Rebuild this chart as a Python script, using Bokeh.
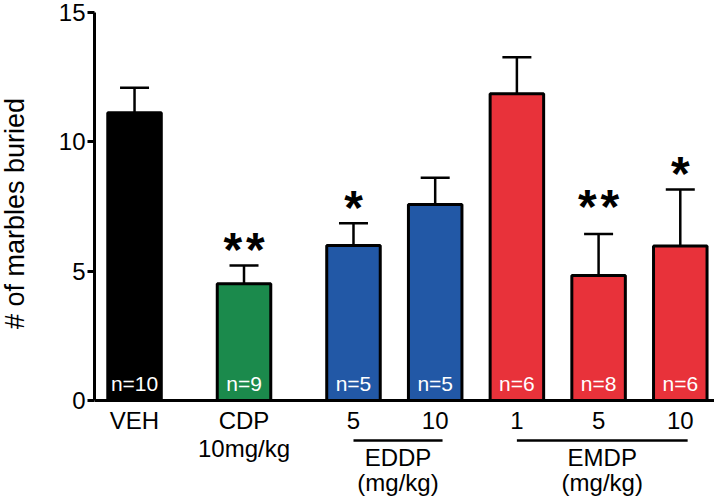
import math
from bokeh.plotting import figure
from bokeh.layouts import row
from bokeh.models import (Range1d, ColumnDataSource, Whisker, TeeHead, Span,
                          FixedTicker)
from bokeh.core.properties import value
from bokeh.embed import file_html
from bokeh.resources import INLINE

# ---------------- data ----------------
treatments = ["VEH", "CDP", "EDDP 5", "EDDP 10", "EMDP 1", "EMDP 5", "EMDP 10"]
clusters = ["VEH", "CDP", "TEST", "TEST", "TEST", "TEST", "TEST"]
tick_top = ["VEH", "CDP", "5", "10", "1", "5", "10"]
tick_bottom = ["", "10mg/kg", "", "", "", "", ""]
means = [11.12, 4.51, 5.99, 7.58, 11.86, 4.83, 5.97]
sems = [0.97, 0.71, 0.86, 1.03, 1.41, 1.61, 2.19]
n_animals = [10, 9, 5, 5, 6, 8, 6]
stars = ["", "**", "*", "", "", "**", "*"]
bar_colors = ["#000000", "#1b8a4c", "#2258a6", "#2258a6",
              "#e8323a", "#e8323a", "#e8323a"]
drug_names = ["EDDP", "EMDP"]
drug_members = [["EDDP 5", "EDDP 10"], ["EMDP 1", "EMDP 5", "EMDP 10"]]
y_ticks = [0, 5, 10, 15]
y_title = "# of marbles buried"

# ---------------- layout / style constants ----------------
FONT = "Liberation Sans"
CLUSTER_GAP = 1.34          # spacing between clusters (bar spacing = 1)
TOTAL_H = 496
LABEL_W = 30                # strip holding the rotated y title
LEFT = 94                   # x of the y axis
FRAME_W = 620
TOP = 12
PX_PER_X = 81.7
PX_PER_Y = 388 / 15
X_START = -0.49
Y_MAX = 15
star_lift = [0, 0, 0, 0, 0, 11, 0]   # extra pixel lift of the stars

# x positions from cluster membership
xpos, cur, prev = [], 0.0, None
for c in clusters:
    if prev is not None:
        cur += 1.0 if c == prev else CLUSTER_GAP
    xpos.append(cur)
    prev = c
pos_of = dict(zip(treatments, xpos))

src = ColumnDataSource(dict(
    x=xpos,
    mean=means,
    upper=[m + s for m, s in zip(means, sems)],
    color=bar_colors,
    nlab=["n=%d" % n for n in n_animals],
    t1=tick_top,
    t2=tick_bottom,
))

# ================= y-title strip (pixel coordinates) =================
t = figure(
    x_range=Range1d(0, LABEL_W), y_range=Range1d(TOTAL_H, 0),
    width=LABEL_W, height=TOTAL_H,
    min_border_left=0, min_border_right=0,
    min_border_top=0, min_border_bottom=0,
    output_backend="svg", toolbar_location=None,
)
t.outline_line_color = None
t.grid.grid_line_color = None
t.xaxis.visible = False
t.yaxis.visible = False
axis_mid_y = TOP + 388 / 2
t.text(x=[14], y=[axis_mid_y], text=[y_title], angle=math.pi / 2,
       text_color="black", text_font=value(FONT), text_font_size="27px",
       text_align="center", text_baseline="middle")

# ================= main plot =================
frame_h = TOTAL_H - TOP
p = figure(
    x_range=Range1d(X_START, X_START + FRAME_W / PX_PER_X),
    y_range=Range1d(Y_MAX - frame_h / PX_PER_Y, Y_MAX),
    frame_width=FRAME_W, frame_height=frame_h,
    min_border_left=LEFT - LABEL_W, min_border_right=0,
    min_border_top=TOP, min_border_bottom=0,
    output_backend="svg", toolbar_location=None,
)
p.outline_line_color = None
p.xgrid.grid_line_color = None
p.ygrid.grid_line_color = None
p.xaxis.visible = False

ya = p.yaxis[0]
ya.ticker = FixedTicker(ticks=y_ticks)
ya.bounds = (0, Y_MAX)
ya.minor_tick_line_color = None
ya.major_tick_out = 7
ya.major_tick_in = 0
ya.axis_line_width = 3
ya.major_tick_line_width = 3
ya.major_label_text_font = FONT
ya.major_label_text_font_size = "24px"
ya.major_label_text_color = "black"
ya.major_label_standoff = 2

p.add_layout(Span(location=0, dimension="width", line_color="black",
                  line_width=3))

# bars
p.vbar(x="x", top="mean", bottom=0, width=0.655, fill_color="color",
       line_color="black", line_width=3, source=src)

# error bars (upper only)
p.add_layout(Whisker(source=src, base="x", upper="upper", lower="mean",
                     dimension="height", line_color="black", line_width=2.5,
                     upper_head=TeeHead(size=29, line_width=2.5,
                                        line_color="black"),
                     lower_head=None))

# n labels inside bars
p.text(x="x", y=0, text="nlab", source=src, text_color="white",
       text_font=value(FONT), text_font_size="21px", text_align="center",
       text_baseline="alphabetic", y_offset=-17)

# significance stars
sx, sy, so, syo = [], [], [], []
for xp, m, s, st, lift in zip(xpos, means, sems, stars, star_lift):
    k = len(st)
    for i in range(k):
        sx.append(xp)
        sy.append(m + s)
        so.append((i - (k - 1) / 2) * 22.5)
        syo.append(-16 - lift)
star_src = ColumnDataSource(dict(x=sx, y=sy, xo=so, yo=syo,
                                 t=["*"] * len(sx)))
p.text(x="x", y="y", text="t", x_offset="xo", y_offset="yo", source=star_src,
       text_color="black", text_font=value(FONT), text_font_size="48px",
       text_font_style="bold", text_align="center",
       text_baseline="alphabetic")

# category labels (below the zero line, inside the frame)
p.text(x="x", y=0, text="t1", source=src, text_color="black",
       text_font=value(FONT), text_font_size="24px", text_align="center",
       text_baseline="alphabetic", y_offset=20)
p.text(x="x", y=0, text="t2", source=src, text_color="black",
       text_font=value(FONT), text_font_size="24px", text_align="center",
       text_baseline="alphabetic", y_offset=48)

# drug group brackets and names
bracket_y = -40 / PX_PER_Y
bx0 = [pos_of[m[0]] for m in drug_members]
bx1 = [pos_of[m[-1]] + 0.09 for m in drug_members]
gx = [(a + b) / 2 for a, b in zip(bx0, bx1)]
p.segment(x0=bx0, y0=[bracket_y] * len(bx0), x1=bx1,
          y1=[bracket_y] * len(bx1), line_color="black", line_width=2.5)
p.text(x=gx, y=[0] * len(gx), text=drug_names, text_color="black",
       text_font=value(FONT), text_font_size="24px", text_align="center",
       text_baseline="alphabetic", y_offset=57)
p.text(x=gx, y=[0] * len(gx), text=["(mg/kg)"] * len(gx), text_color="black",
       text_font=value(FONT), text_font_size="24px", text_align="center",
       text_baseline="alphabetic", y_offset=82)

layout = row(t, p, spacing=0)
open("out.html", "w").write(file_html(layout, INLINE))
